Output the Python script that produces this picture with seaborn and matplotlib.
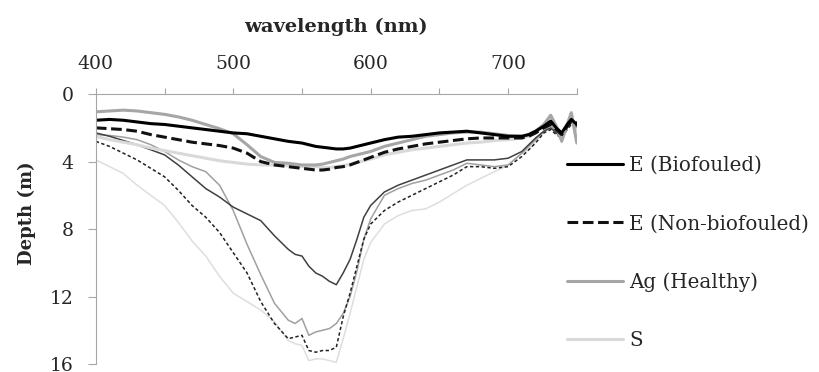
import numpy as np
import pandas as pd
import seaborn as sns
import matplotlib.pyplot as plt

# wavelength grid (nm)
wavelength = [400, 410, 420, 430, 440, 450, 460, 470, 480, 490,
              500, 510, 520, 530, 540, 545, 550, 555, 560, 565,
              570, 575, 580, 585, 590, 595, 600, 610, 620, 630,
              640, 650, 660, 670, 680, 690, 700, 710, 715, 720,
              726, 731, 735, 739, 743, 746, 750]

# shallow curves (thick lines, shown in the legend)
e_bio_thick = [1.55, 1.5, 1.55, 1.65, 1.75, 1.8, 1.9, 2.0, 2.1, 2.2,
               2.3, 2.35, 2.5, 2.65, 2.8, 2.85, 2.9, 3.0, 3.1, 3.15,
               3.2, 3.25, 3.25, 3.2, 3.1, 3.0, 2.9, 2.7, 2.55, 2.5,
               2.4, 2.3, 2.25, 2.2, 2.3, 2.4, 2.5, 2.5, 2.4, 2.2,
               1.9, 1.6, 2.0, 2.3, 1.8, 1.5, 1.8]
e_non_thick = [2.0, 2.05, 2.1, 2.2, 2.4, 2.55, 2.7, 2.85, 2.95, 3.05,
               3.2, 3.5, 4.0, 4.2, 4.3, 4.35, 4.4, 4.45, 4.5, 4.5,
               4.45, 4.35, 4.3, 4.2, 4.05, 3.9, 3.75, 3.45, 3.25, 3.1,
               2.95, 2.85, 2.75, 2.65, 2.6, 2.6, 2.6, 2.6, 2.5, 2.3,
               2.0, 1.8, 2.1, 2.4, 1.9, 1.6, 1.7]
ag_thick = [1.05, 1.0, 0.95, 1.0, 1.1, 1.2, 1.35, 1.55, 1.8, 2.05,
            2.35, 3.0, 3.7, 4.05, 4.1, 4.15, 4.2, 4.2, 4.2, 4.15,
            4.05, 3.95, 3.85, 3.7, 3.6, 3.5, 3.4, 3.1, 2.9, 2.7,
            2.5, 2.4, 2.3, 2.25, 2.25, 2.35, 2.45, 2.5, 2.4, 2.2,
            1.8, 1.25, 1.9, 2.8, 1.8, 1.1, 2.9]
s_thick = [2.5, 2.7, 2.85, 3.0, 3.2, 3.35, 3.5, 3.65, 3.8, 3.95,
           4.05, 4.15, 4.2, 4.2, 4.25, 4.25, 4.3, 4.3, 4.3, 4.35,
           4.35, 4.3, 4.25, 4.15, 4.05, 3.95, 3.85, 3.6, 3.45, 3.3,
           3.2, 3.1, 3.0, 2.9, 2.85, 2.75, 2.7, 2.6, 2.5, 2.3,
           1.8, 1.3, 1.9, 2.7, 1.8, 1.2, 2.8]

# deep curves (thin lines)
e_bio_thin = [2.3, 2.5, 2.75, 3.0, 3.3, 3.6, 4.2, 4.9, 5.6, 6.1,
              6.7, 7.1, 7.5, 8.4, 9.2, 9.5, 9.6, 10.2, 10.6, 10.8,
              11.1, 11.3, 10.6, 9.8, 8.6, 7.3, 6.6, 5.8, 5.4, 5.1,
              4.8, 4.5, 4.2, 3.9, 3.9, 3.9, 3.8, 3.4, 3.0, 2.6,
              2.2, 2.0, 2.3, 2.5, 2.0, 1.7, 1.9]
e_non_thin = [2.8, 3.1, 3.5, 3.9, 4.4, 4.9, 5.7, 6.6, 7.3, 8.2,
              9.4, 10.6, 12.3, 13.6, 14.5, 14.4, 14.3, 15.2, 15.3, 15.2,
              15.2, 15.0, 13.2, 11.8, 10.2, 8.6, 7.7, 6.9, 6.4, 6.0,
              5.6, 5.2, 4.8, 4.3, 4.3, 4.4, 4.3, 3.7, 3.3, 2.9,
              2.3, 2.1, 2.4, 2.6, 2.1, 1.8, 2.0]
ag_thin = [2.4, 2.45, 2.55, 2.7, 3.0, 3.4, 3.9, 4.3, 4.6, 5.4,
           6.9, 8.9, 10.7, 12.4, 13.4, 13.6, 13.3, 14.3, 14.1, 14.0,
           13.9, 13.6, 13.0, 12.0, 10.5, 8.6, 7.4, 6.0, 5.6, 5.3,
           5.1, 4.8, 4.5, 4.1, 4.2, 4.3, 4.2, 3.5, 3.1, 2.7,
           2.2, 1.8, 2.3, 2.6, 1.9, 1.6, 2.0]
s_thin = [3.9, 4.3, 4.7, 5.4, 6.0, 6.6, 7.6, 8.7, 9.6, 10.8,
          11.8, 12.3, 12.8, 13.5, 14.6, 14.8, 14.9, 15.8, 15.7, 15.7,
          15.8, 15.9, 14.5, 13.0, 11.4, 9.8, 8.8, 7.7, 7.2, 6.9,
          6.8, 6.4, 5.9, 5.4, 5.0, 4.6, 4.2, 3.5, 3.3, 2.8,
          2.3, 1.8, 2.2, 2.6, 1.8, 1.5, 2.2]

labels = ['E (Biofouled)', 'E (Non-biofouled)', 'Ag (Healthy)', 'S']

sns.set_style('white')
plt.rcParams['font.family'] = ['DejaVu Serif']

fig = plt.figure(figsize=(8.19, 3.72), dpi=100)
ax = fig.add_axes([0.117, 0.0215, 0.5873, 0.7255])

dash_thick = (0, (3.5, 1.5))
dash_thin = (0, (2.2, 1.6))

# thin (deep) lines first
thin = [
    (s_thin, '#dedede', '-'),
    (ag_thin, '#a0a0a0', '-'),
    (e_non_thin, '#222222', dash_thin),
    (e_bio_thin, '#404040', '-'),
]
for values, color, ls in thin:
    sns.lineplot(x=wavelength, y=values, ax=ax, color=color, lw=1.1,
                 linestyle=ls, errorbar=None, legend=False)

# thick (shallow) lines on top
thick = [
    (s_thick, '#d9d9d9', '-', labels[3]),
    (ag_thick, '#a6a6a6', '-', labels[2]),
    (e_non_thick, '#111111', dash_thick, labels[1]),
    (e_bio_thick, '#000000', '-', labels[0]),
]
for values, color, ls, lab in thick:
    sns.lineplot(x=wavelength, y=values, ax=ax, color=color, lw=2.2,
                 linestyle=ls, errorbar=None, label=lab)

ax.set_xlim(400, 750)
ax.set_ylim(16, 0)
ax.xaxis.tick_top()
ax.xaxis.set_label_position('top')
ax.set_xticks(np.arange(400, 751, 50))
ax.set_xticklabels(['400', '', '500', '', '600', '', '700', ''])
ax.set_yticks([0, 4, 8, 12, 16])

ax.tick_params(axis='x', direction='out', length=4.5, width=0.8,
               color='#a6a6a6', pad=11, labelsize=13.5, top=True, bottom=False)
ax.tick_params(axis='y', direction='out', length=6, width=0.8,
               color='#a6a6a6', pad=10, labelsize=13.5, left=True)

for side in ['right', 'bottom']:
    ax.spines[side].set_visible(False)
for side in ['top', 'left']:
    ax.spines[side].set_color('#a6a6a6')
    ax.spines[side].set_linewidth(0.8)

ax.set_xlabel('wavelength (nm)', fontsize=14, fontweight='bold', labelpad=16)
ax.set_ylabel('Depth (m)', fontsize=13, fontweight='bold')
ax.yaxis.set_label_coords(-0.125, 0.56)

handles, labs = ax.get_legend_handles_labels()
order = [labs.index(l) for l in labels]
ax.legend([handles[i] for i in order], labels, loc='upper left',
          bbox_to_anchor=(0.692, 0.58), bbox_transform=fig.transFigure,
          frameon=False, fontsize=14.3, handlelength=2.85, handletextpad=0.3,
          labelspacing=1.97, borderpad=0, borderaxespad=0)

fig.savefig('out.png', dpi=100)
